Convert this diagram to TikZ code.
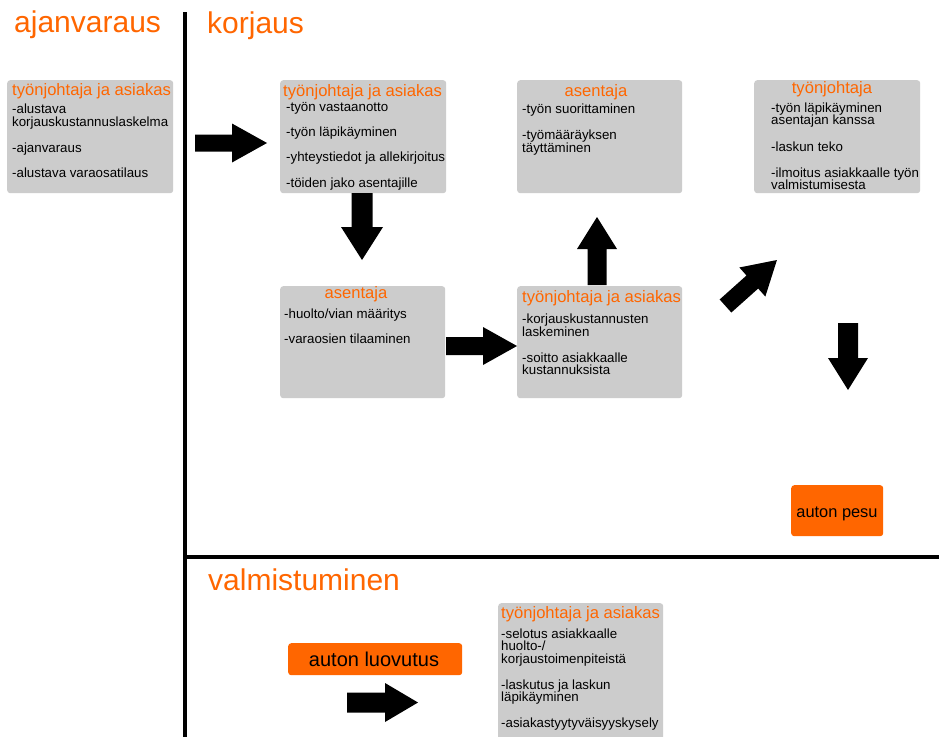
\documentclass[tikz,border=0pt]{standalone}
\usepackage{fontspec}
\setmainfont{Liberation Sans}
\definecolor{orng}{HTML}{FF6600}
\definecolor{boxgray}{HTML}{CCCCCC}
\newcommand\blockarrow[6]{%
  \fill[black,shift={#1},rotate=#2] (0,-#5) -- ({#3-#4},-#5) -- ({#3-#4},-#6) -- (#3,0)
    -- ({#3-#4},#6) -- ({#3-#4},#5) -- (0,#5) -- cycle;}
\begin{document}
\begin{tikzpicture}[x=1pt,y=-1pt,
  sect/.style={text=orng, font=\fontsize{30}{36}\selectfont, inner sep=0, anchor=base west},
  bhead/.style={text=orng, font=\fontsize{16.6}{20}\selectfont, inner sep=0, anchor=base west},
  bheadc/.style={bhead, anchor=base},
  body/.style={font=\fontsize{13.3}{16}\selectfont, inner sep=0, anchor=base west},
  box/.style={fill=boxgray, rounded corners=3pt, inner sep=0, anchor=north west},
  obox/.style={fill=orng, rounded corners=3pt, inner sep=0, anchor=north west},
]
\clip (0,0) rectangle (939,736);
\fill[white] (0,0) rectangle (939,736);

% separators
\coordinate (vtop) at (185,12);
\coordinate (vbot) at (185,740);
\coordinate (hl) at (183,557);
\coordinate (hr) at (945,557);
\draw[line width=4pt] (vtop) -- (vbot);
\draw[line width=4pt] (hl) -- (hr);

% section titles
\node[sect] (s1) at (14,32) {ajanvaraus};
\node[sect] (s2) at (207,33) {korjaus};
\node[sect] (s3) at (208,590) {valmistuminen};

% boxes
\node[box, minimum width=166pt, minimum height=113pt] (bA) at (7,80) {};
\node[box, minimum width=166pt, minimum height=113pt] (bB) at (280,80) {};
\node[box, minimum width=165pt, minimum height=113pt] (bC) at (517,80) {};
\node[box, minimum width=166pt, minimum height=113pt] (bD) at (754,80) {};
\node[box, minimum width=165pt, minimum height=112pt] (bE) at (280,286) {};
\node[box, minimum width=165pt, minimum height=112pt] (bF) at (517,286) {};
\node[box, minimum width=165pt, minimum height=150pt] (bG) at (498,603) {};
\node[obox, minimum width=92pt, minimum height=51pt] (pesu) at (791,485) {};
\node[obox, minimum width=174pt, minimum height=32pt] (luov) at (288,643) {};

% box A
\node[bhead] (hA) at (12,95) {työnjohtaja ja asiakas};
\node[body] (a1) at (12,113) {-alustava};
\node[body] (a2) at (12,126) {korjauskustannuslaskelma};
\node[body] (a3) at (12,152) {-ajanvaraus};
\node[body] (a4) at (12,177) {-alustava varaosatilaus};

% box B
\node[bhead] (hB) at (283,96) {työnjohtaja ja asiakas};
\node[body] (b1) at (286,111.5) {-työn vastaanotto};
\node[body] (b2) at (286,136.5) {-työn läpikäyminen};
\node[body] (b3) at (286,161.5) {-yhteystiedot ja allekirjoitus};
\node[body] (b4) at (286,187) {-töiden jako asentajille};

% box C
\node[bheadc] (hC) at (596,96) {asentaja};
\node[body] (c1) at (522,113) {-työn suorittaminen};
\node[body] (c2) at (522,139) {-työmääräyksen};
\node[body] (c3) at (522,152) {täyttäminen};

% box D
\node[bheadc] (hD) at (832,93) {työnjohtaja};
\node[body] (d1) at (771,112) {-työn läpikäyminen};
\node[body] (d2) at (771,124) {asentajan kanssa};
\node[body] (d3) at (771,151) {-laskun teko};
\node[body] (d4) at (771,177) {-ilmoitus asiakkaalle työn};
\node[body] (d5) at (771,189) {valmistumisesta};

% box E
\node[bheadc] (hE) at (356,298) {asentaja};
\node[body] (e1) at (284,318) {-huolto/vian määritys};
\node[body] (e2) at (284,343) {-varaosien tilaaminen};

% box F
\node[bhead] (hF) at (522,302) {työnjohtaja ja asiakas};
\node[body] (f1) at (522,323) {-korjauskustannusten};
\node[body] (f2) at (522,336) {laskeminen};
\node[body] (f3) at (522,362) {-soitto asiakkaalle};
\node[body] (f4) at (522,374) {kustannuksista};

% box G
\node[bhead] (hG) at (501,618) {työnjohtaja ja asiakas};
\node[body] (g1) at (501,638) {-selotus asiakkaalle};
\node[body] (g2) at (501,650.5) {huolto-/};
\node[body] (g3) at (501,663) {korjaustoimenpiteistä};
\node[body] (g4) at (501,689) {-laskutus ja laskun};
\node[body] (g5) at (501,701.5) {läpikäyminen};
\node[body] (g6) at (501,727.5) {-asiakastyytyväisyyskysely};

% orange labels
\node[font=\fontsize{16.4}{20}\selectfont, inner sep=0, anchor=base] (tpesu) at (837,517) {auton pesu};
\node[font=\fontsize{20}{24}\selectfont, inner sep=0, anchor=base] (tluov) at (374,666) {auton luovutus};

% block arrows
\blockarrow{(195,143)}{0}{72}{35}{8.5}{19.5}
\blockarrow{(362,193)}{-90}{67}{33}{10.5}{21}
\blockarrow{(446,346)}{0}{71}{34}{9}{19}
\blockarrow{(597,285)}{90}{68}{32}{9.5}{20}
\blockarrow{(725.5,306)}{41.8}{69}{33}{8.75}{19.5}
\blockarrow{(848,323)}{-90}{67}{32}{10}{20}
\blockarrow{(347,702.5)}{0}{71}{33}{10}{19.5}
\end{tikzpicture}
\end{document}
